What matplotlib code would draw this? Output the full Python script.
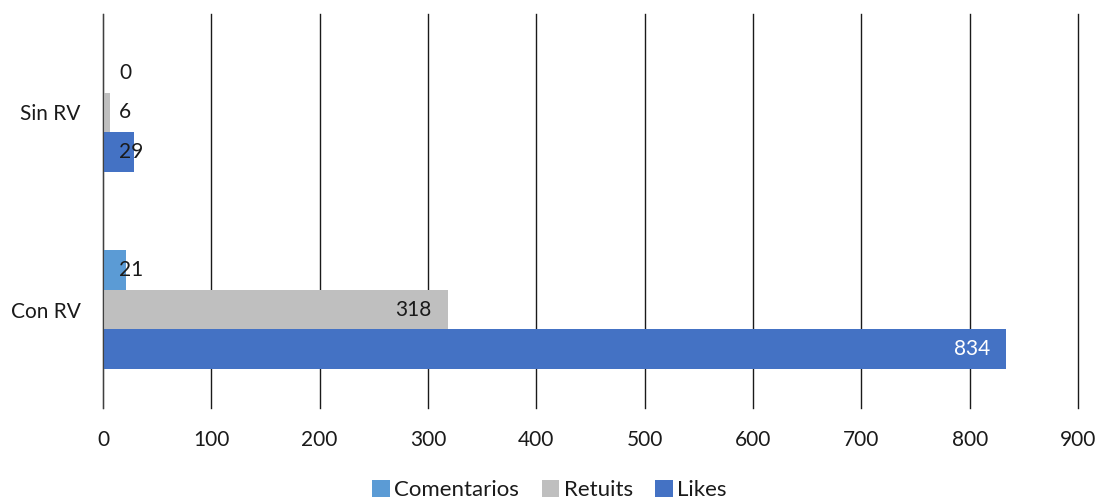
import numpy as np
import matplotlib.pyplot as plt

plt.rcParams['font.family'] = ['Lato', 'DejaVu Sans']

categorias = ['Con RV', 'Sin RV']
comentarios = [21, 0]
retuits = [318, 6]
likes = [834, 29]

series = [('Comentarios', comentarios, '#5B9BD5', 1),
          ('Retuits', retuits, '#BFBFBF', 0),
          ('Likes', likes, '#4472C4', -1)]

fig = plt.figure(figsize=(10.99, 5), dpi=100)
ax = fig.add_axes([103 / 1099, 1 - 408 / 500, 975 / 1099, 394 / 500])

h = 0.203
y = np.arange(len(categorias))
for name, vals, color, off in series:
    ax.barh(y + off * h, vals, height=h, color=color, label=name, zorder=3)
    for yi, v in zip(y, vals):
        txt_color = 'white' if color == '#4472C4' and v > 100 else '#1a1a1a'
        if v > 100:
            ax.annotate(str(v), (v, yi + off * h), xytext=(-16, 0), textcoords='offset pixels',
                        ha='right', va='center', fontsize=15, color=txt_color, zorder=4)
        else:
            ax.annotate(str(v), (0, yi + off * h), xytext=(16, 0), textcoords='offset pixels',
                        ha='left', va='center', fontsize=15, color=txt_color, zorder=4)

ax.set_xlim(0, 900)
ax.set_ylim(-0.5, 1.5)
ax.set_xticks(range(0, 901, 100))
ax.set_yticks(y)
ax.set_yticklabels(categorias)
ax.tick_params(length=0, labelsize=15, colors='#1a1a1a')
ax.tick_params(axis='x', pad=16)
ax.tick_params(axis='y', pad=16)
ax.grid(axis='x', color='#1a1a1a', linewidth=1, zorder=0)
for gl in ax.get_xgridlines():
    gl.set_clip_on(False)
for s in ['top', 'right', 'bottom']:
    ax.spines[s].set_visible(False)
ax.spines['left'].set_color('#404040')
ax.spines['left'].set_zorder(5)

fig.legend(loc='center', bbox_to_anchor=(0.5, 1 - 490 / 500), ncol=3, frameon=False,
           fontsize=16, handlelength=0.8, handleheight=0.8, handletextpad=0.2,
           columnspacing=1.0, labelcolor='#1a1a1a')

fig.savefig('out.png', dpi=100)
